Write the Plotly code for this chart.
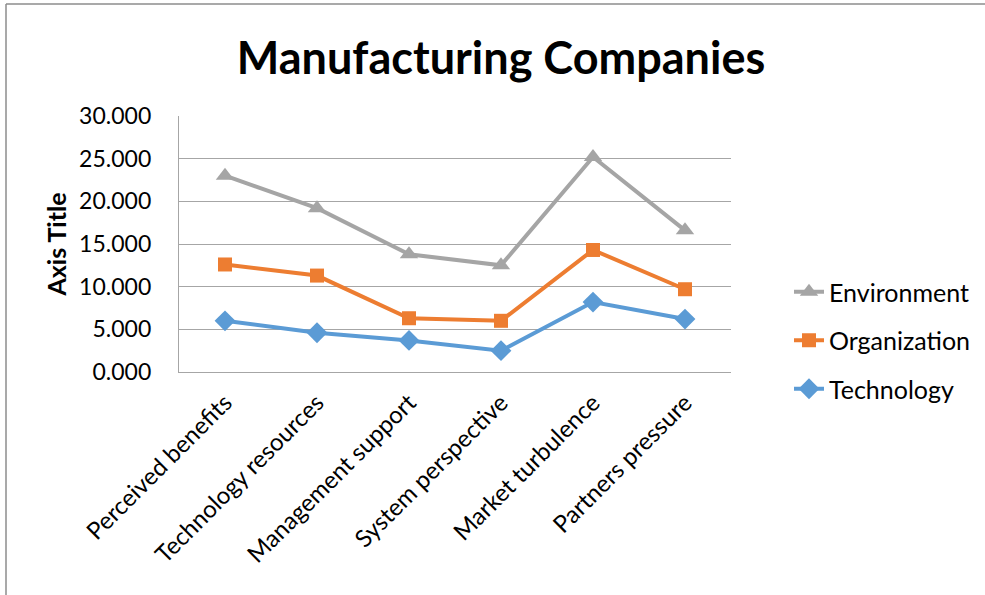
import plotly.graph_objects as go

categories = ["Perceived benefits", "Technology resources", "Management support",
              "System perspective", "Market turbulence", "Partners pressure"]
technology = [6.0, 4.6, 3.7, 2.5, 8.2, 6.2]
organization = [12.6, 11.3, 6.3, 6.0, 14.3, 9.7]
environment = [23.0, 19.2, 13.8, 12.5, 25.2, 16.6]
y_ticks = [0, 5, 10, 15, 20, 25, 30]

FONT = "Lato"
W, H = 985, 595
L, R, T, B = 179, 254, 116, 223

fig = go.Figure()
series = [
    ("Environment", environment, "#A5A5A5", "triangle-up", 16),
    ("Organization", organization, "#ED7D31", "square", 14),
    ("Technology", technology, "#5B9BD5", "diamond", 16),
]
for name, vals, color, sym, size in series:
    fig.add_trace(go.Scatter(
        x=categories, y=vals, name=name, mode="lines+markers",
        line=dict(color=color, width=4),
        marker=dict(symbol=sym, size=size, color=color),
        legendgroup=name,
    ))

pw = W - L - R
ph = H - T - B
fig.update_layout(
    width=W, height=H,
    margin=dict(l=L, r=R, t=T, b=B, autoexpand=False),
    paper_bgcolor="white", plot_bgcolor="white",
    font=dict(family=FONT, color="black", size=23),
    title=dict(text="<b>Manufacturing Companies</b>", x=501 / W, xref="container",
               xanchor="center", y=1 - 58 / H, yref="container", yanchor="middle",
               font=dict(family=FONT, size=45, color="black")),
    showlegend=True,
    legend=dict(x=(789 - L) / pw, y=1 - (269 - T) / ph, xanchor="left", yanchor="top",
                traceorder="grouped", tracegroupgap=13,
                font=dict(family=FONT, size=25, color="black"),
                bgcolor="rgba(0,0,0,0)"),
    xaxis=dict(type="category", showgrid=False, showline=True, linecolor="#a6a6a6",
               linewidth=1.3, tickangle=-45, ticks="", tickfont=dict(size=24),
               ticklabelstandoff=6, range=[-0.5, 5.5]),
    yaxis=dict(range=[0, 30], tickvals=y_ticks, tickformat=".3f", showgrid=True,
               gridcolor="#a6a6a6", gridwidth=1.3, showline=True, linecolor="#a6a6a6",
               linewidth=1.3, zeroline=False, ticks="", ticklabelstandoff=22,
               tickfont=dict(size=23),
               title=dict(text="<b>Axis Title</b>", font=dict(size=25), standoff=5)),
)

# chart frame (decorative)
fig.add_shape(type="line", xref="paper", yref="paper",
              x0=(6 - L) / pw, x1=(985 - L) / pw, y0=1 + (T - 4) / ph, y1=1 + (T - 4) / ph,
              line=dict(color="#8c8c8c", width=1.5))
fig.add_shape(type="line", xref="paper", yref="paper",
              x0=(6 - L) / pw, x1=(6 - L) / pw, y0=1 + (T - 4) / ph, y1=-(B + 5) / ph,
              line=dict(color="#8c8c8c", width=1.5))

fig.write_html("out.html")
